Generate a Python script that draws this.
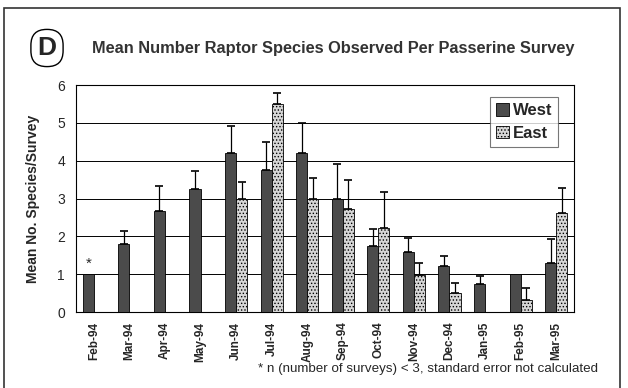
import numpy as np, pandas as pd, seaborn as sns, matplotlib.pyplot as plt
from matplotlib.patches import Rectangle

months = ['Feb-94', 'Mar-94', 'Apr-94', 'May-94', 'Jun-94', 'Jul-94', 'Aug-94',
          'Sep-94', 'Oct-94', 'Nov-94', 'Dec-94', 'Jan-95', 'Feb-95', 'Mar-95']
west = [1.0, 1.8, 2.67, 3.25, 4.2, 3.75, 4.2, 3.0, 1.75, 1.58, 1.22, 0.74, 1.0, 1.3]
west_se = [np.nan, 0.35, 0.65, 0.47, 0.72, 0.75, 0.8, 0.9, 0.45, 0.38, 0.26, 0.21, np.nan, 0.63]
east = [np.nan, np.nan, np.nan, np.nan, 3.0, 5.5, 3.0, 2.73, 2.22, 0.98, 0.5, np.nan, 0.32, 2.62]
east_se = [np.nan, np.nan, np.nan, np.nan, 0.43, 0.28, 0.53, 0.75, 0.95, 0.32, 0.27, np.nan, 0.31, 0.66]

sns.set_style('white')
plt.rcParams['font.family'] = ['Liberation Sans', 'DejaVu Sans']
plt.rcParams['hatch.color'] = '#a0a0a0'
plt.rcParams['hatch.linewidth'] = 0.6

df = pd.DataFrame({
    'month': months * 2,
    'site': ['West'] * len(months) + ['East'] * len(months),
    'value': west + east,
    'se': west_se + east_se,
})

fig = plt.figure(figsize=(6.28, 3.88), dpi=100)
ax = fig.add_axes([76 / 628, 1 - 312 / 388, 498 / 628, 227 / 388])

sns.barplot(data=df, x='month', y='value', hue='site', order=months,
            hue_order=['West', 'East'], palette={'West': '#4b4b4b', 'East': '#d6d6d6'},
            width=0.62, gap=0, edgecolor='black', linewidth=0.6, errorbar=None,
            ax=ax, zorder=3)

# error bars (upper only) and the texture on East bars
for cont, site in zip(ax.containers, ['West', 'East']):
    sub = df[df['site'] == site].set_index('month')
    for bar in cont:
        h = bar.get_height()
        if np.isnan(h):
            continue
        xc = bar.get_x() + bar.get_width() / 2
        m = months[int(round(xc))]
        if site == 'East':
            bar.set_hatch('.....')
        se = sub.loc[m, 'se']
        if not np.isnan(se):
            ax.errorbar(xc, h, yerr=[[0], [se]], fmt='none', ecolor='black',
                        elinewidth=0.9, capsize=3, capthick=1.2, zorder=2)
        elif site == 'West' and m == 'Feb-94':
            ax.text(xc, h + 0.08, '*', ha='center', va='bottom', fontsize=11)

ax.set_ylim(0, 6)
ax.set_xlim(-0.5, len(months) - 0.5)
ax.set_yticks(range(7))
ax.yaxis.grid(True, color='black', linewidth=0.7, zorder=0)
ax.set_axisbelow(True)
ax.set_xticks(range(len(months)))
ax.set_xticklabels(months, rotation=90, fontsize=8.5, fontweight='bold')
ax.set_xticks(np.arange(len(months) + 1) - 0.5, minor=True)
ax.tick_params(axis='x', which='major', length=0, pad=7)
ax.tick_params(axis='x', which='minor', length=4, width=0.7, direction='out', color='#555555')
ax.tick_params(axis='y', length=4, width=0.7, direction='out', labelsize=10, pad=4)
for s in ax.spines.values():
    s.set_color('black')
    s.set_linewidth(0.8)
ax.set_xlabel('')
ax.set_ylabel('Mean No. Species/Survey', fontsize=10, fontweight='bold', labelpad=12)

leg = ax.legend(loc='upper right', bbox_to_anchor=(0.968, 0.945), borderaxespad=0, fontsize=12,
                frameon=True, fancybox=False, edgecolor='#555555', handlelength=0.75,
                handleheight=0.75, handletextpad=0.25, borderpad=0.35, labelspacing=0.45)
for t in leg.get_texts():
    t.set_fontweight('bold')
leg.get_frame().set_linewidth(0.8)
leg.legend_handles[1].set_hatch('.....')

fig.text(333 / 628, 1 - 48 / 388, 'Mean Number Raptor Species Observed Per Passerine Survey',
         ha='center', va='center', fontsize=11.8, fontweight='bold', color='#333333')
fig.text(47 / 628, 1 - 48 / 388, 'D', ha='center', va='center', fontsize=19, fontweight='bold',
         bbox=dict(boxstyle='round,pad=0.25,rounding_size=0.6', fc='white', ec='black', lw=1))
fig.text(598 / 628, 1 - 369 / 388, '* n (number of surveys) < 3, standard error not calculated',
         ha='right', va='center', fontsize=9.6)

fig.patches.append(Rectangle((4 / 628, -0.05), 616 / 628, 1.05 - 8 / 388, transform=fig.transFigure,
                             fill=False, edgecolor='#333333', linewidth=1.2))

fig.savefig('out.png', dpi=100)
